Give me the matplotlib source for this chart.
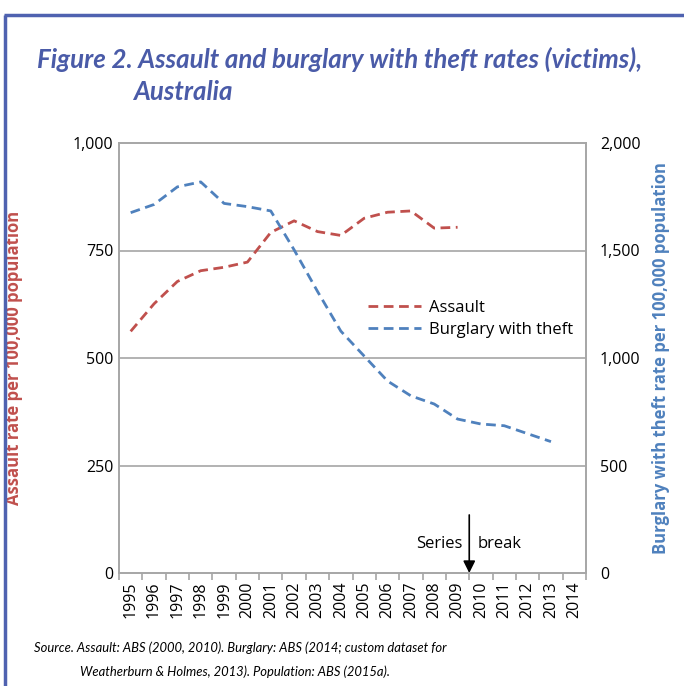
import numpy as np
import matplotlib
matplotlib.use('Agg')
import matplotlib.pyplot as plt
from matplotlib.lines import Line2D
from matplotlib.ticker import FuncFormatter

plt.rcParams['font.family'] = ['Open Sans', 'DejaVu Sans']

years = [str(y) for y in range(1995, 2015)]
assault_years = list(range(1995, 2010))
assault = [562, 626, 678, 703, 711, 723, 792, 819, 794, 785, 825, 839, 842, 802, 804]
burglary_years = list(range(1995, 2014))
burglary = [1676, 1714, 1796, 1819, 1719, 1704, 1684, 1503, 1310, 1125,
            1009, 893, 824, 786, 716, 693, 685, 648, 611]
left_ticks = [0, 250, 500, 750, 1000]
right_ticks = [0, 500, 1000, 1500, 2000]

red = '#C0504D'
blue = '#4F81BD'
title_blue = '#4A5BA8'
grey = '#A6A6A6'

fig = plt.figure(figsize=(6.84, 6.86), dpi=100)
ax = fig.add_axes([119/684, 1 - 573/686, (586 - 119)/684, (573 - 143)/686])
ax2 = ax.twinx()

xa = [years.index(str(y)) for y in assault_years]
xb = [years.index(str(y)) for y in burglary_years]
l1, = ax.plot(xa, assault, color=red, lw=2, ls=(0, (3.5, 2)), label='Assault')
l2, = ax2.plot(xb, burglary, color=blue, lw=2, ls=(0, (3.5, 2)), label='Burglary with theft')

ax.set_xlim(-0.5, len(years) - 0.5)
ax.set_ylim(0, 1000)
ax2.set_ylim(0, 2000)

ax.set_yticks(left_ticks)
ax2.set_yticks(right_ticks)
fmt = FuncFormatter(lambda v, p: f'{int(v):,}')
ax.yaxis.set_major_formatter(fmt)
ax2.yaxis.set_major_formatter(fmt)
ax.tick_params(axis='y', length=0, labelsize=11.5, pad=4)
ax2.tick_params(axis='y', length=0, labelsize=11.5, pad=10)

ax.set_xticks(range(len(years)))
ax.set_xticklabels(years, rotation=90, fontsize=11.5)
ax.set_xticks(np.arange(-0.5, len(years), 1), minor=True)
ax.tick_params(axis='x', which='major', length=0, pad=6)
ax.tick_params(axis='x', which='minor', length=5, color=grey, width=1.2)

for v in left_ticks[1:-1]:
    ax.axhline(v, color=grey, lw=1.2, zorder=0)
for a in (ax, ax2):
    for s in a.spines.values():
        s.set_color(grey)
        s.set_linewidth(1.2)

ax.set_ylabel('Assault rate per 100,000 population', color=red,
              fontweight='bold', fontsize=12)
ax.yaxis.set_label_coords(-0.205, 0.5)
ax2.set_ylabel('Burglary with theft rate per 100,000 population', color=blue,
               fontweight='bold', fontsize=12, labelpad=8)

ax.legend([l1, l2], ['Assault', 'Burglary with theft'], frameon=False,
          loc='upper left', bbox_to_anchor=(0.50, 0.67), fontsize=12,
          handlelength=3.2, handletextpad=0.5, labelspacing=0.35)

# series break marker
ax.annotate('', xy=(14.5, 0), xytext=(14.5, 135),
            arrowprops=dict(arrowstyle='-|>', color='black', lw=1.2,
                            mutation_scale=18, shrinkA=0, shrinkB=0))
ax.text(14.2, 68, 'Series', ha='right', va='center', fontsize=12)
ax.text(14.85, 68, 'break', ha='left', va='center', fontsize=12)

# title and source, sized to the widths they take in the original
renderer = fig.canvas.get_renderer()


def fit(t, width_px):
    w = t.get_window_extent(renderer).width
    t.set_fontsize(t.get_fontsize() * width_px / w)


tfam = ['Lato', 'DejaVu Sans']
t1 = fig.text(37/684, 1 - 59/686, 'Figure 2. Assault and burglary with theft rates (victims),',
              color=title_blue, fontsize=18, fontweight='bold', style='italic',
              family=tfam, va='center', ha='left')
fit(t1, 606)
fig.text(133/684, 1 - 92/686, 'Australia',
         color=title_blue, fontsize=t1.get_fontsize(), fontweight='bold', style='italic',
         family=tfam, va='center', ha='left')
s1 = fig.text(240/684, 1 - 648/686,
              'Source. Assault: ABS (2000, 2010). Burglary: ABS (2014; custom dataset for',
              fontsize=10, style='italic', family=tfam, ha='center', va='center')
fit(s1, 411)
fig.text(235/684, 1 - 672/686,
         'Weatherburn & Holmes, 2013). Population: ABS (2015a).',
         fontsize=s1.get_fontsize(), style='italic', family=tfam, ha='center', va='center')

# frame border: left and top edges, kept inside the canvas
top = 1 - 15/686
bx = 5/684
fig.add_artist(Line2D([bx, bx], [0.5/686, top], transform=fig.transFigure,
                      color='#4F62B0', lw=2.5, solid_capstyle='butt'))
fig.add_artist(Line2D([bx - 1.25/684, 683.5/684], [top, top], transform=fig.transFigure,
                      color='#4F62B0', lw=2.5, solid_capstyle='butt'))

fig.savefig('out.png', dpi=100)
